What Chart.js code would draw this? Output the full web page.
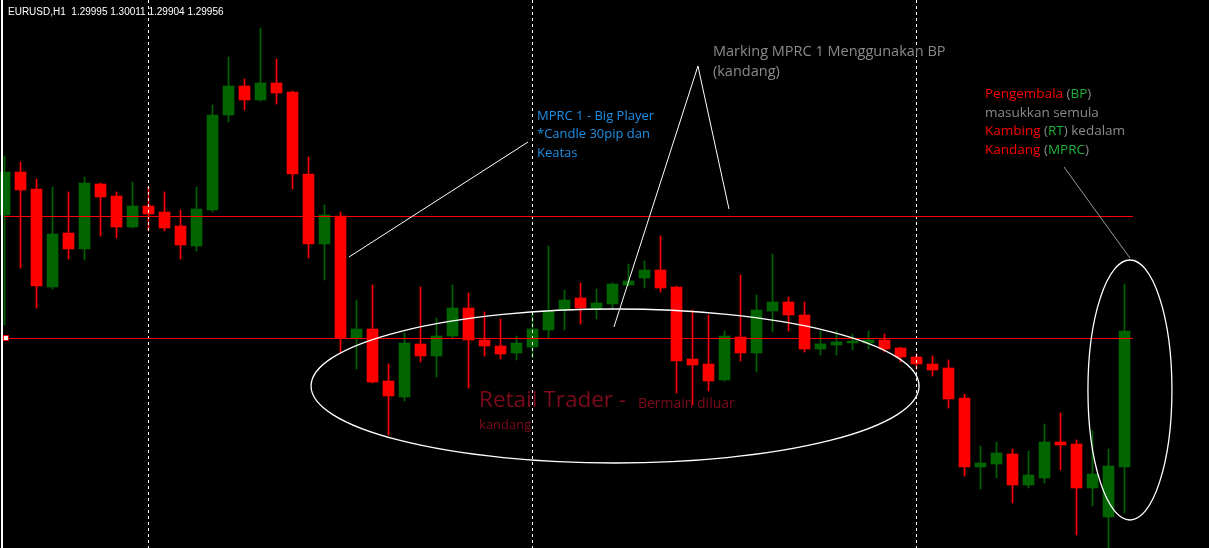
<!DOCTYPE html>
<html>
<head>
<meta charset="utf-8">
<script src="https://cdn.jsdelivr.net/npm/chart.js@4.4.0/dist/chart.umd.min.js"></script>
<style>
  html, body { margin: 0; padding: 0; background: #000; }
  #wrap { width: 1209px; height: 548px; position: relative; }
</style>
</head>
<body>
<div id="wrap"><canvas id="candleChart"></canvas></div>
<script>
// EURUSD H1 - one entry per bar
const opens = [1.30170,1.30256,1.30222,1.30026,1.30134,1.30102,1.30232,1.30208,1.30146,1.30188,
  1.30176,1.30148,1.30108,1.30180,1.30370,1.30428,1.30400,1.30434,1.30416,1.30252,
  1.30112,1.30168,1.29924,1.29942,1.29838,1.29806,1.29912,1.29888,1.29928,1.29984,
  1.29920,1.29908,1.29894,1.29906,1.29940,1.29980,1.30004,1.29982,1.29992,1.30030,
  1.30044,1.30060,1.30026,1.29882,1.29872,1.29840,1.29926,1.29894,1.29978,1.29996,
  1.29970,1.29902,1.29910,1.29914,1.29914,1.29920,1.29904,1.29886,1.29872,1.29864,
  1.29804,1.29666,1.29672,1.29692,1.29630,1.29644,1.29716,1.29712,1.29624,1.29566,
  1.29666];
const highs = [1.30288,1.30276,1.30242,1.30226,1.30216,1.30246,1.30234,1.30216,1.30236,1.30226,
  1.30216,1.30180,1.30226,1.30390,1.30486,1.30442,1.30544,1.30482,1.30418,1.30286,
  1.30190,1.30176,1.30000,1.30030,1.29872,1.29934,1.30026,1.29964,1.30030,1.30014,
  1.29976,1.29962,1.29928,1.29976,1.30108,1.30020,1.30034,1.30022,1.30034,1.30072,
  1.30078,1.30128,1.30028,1.29980,1.29970,1.29938,1.30050,1.30010,1.30092,1.30006,
  1.29996,1.29938,1.29938,1.29932,1.29938,1.29932,1.29906,1.29892,1.29888,1.29880,
  1.29812,1.29708,1.29716,1.29702,1.29698,1.29752,1.29774,1.29720,1.29738,1.29702,
  1.30032];
const lows = [1.29950,1.30064,1.29984,1.30022,1.30082,1.30080,1.30128,1.30124,1.30144,1.30140,
  1.30138,1.30082,1.30098,1.30176,1.30356,1.30380,1.30398,1.30392,1.30222,1.30084,
  1.30040,1.29894,1.29862,1.29834,1.29730,1.29798,1.29876,1.29846,1.29924,1.29824,
  1.29888,1.29882,1.29880,1.29884,1.29924,1.29940,1.29952,1.29962,1.29984,1.30028,
  1.30024,1.30016,1.29814,1.29790,1.29818,1.29838,1.29878,1.29856,1.29936,1.29938,
  1.29896,1.29890,1.29890,1.29900,1.29902,1.29896,1.29876,1.29862,1.29848,1.29784,
  1.29648,1.29622,1.29644,1.29594,1.29624,1.29634,1.29660,1.29530,1.29588,1.29496,
  1.29574];
const closes = [1.30256,1.30220,1.30028,1.30132,1.30102,1.30234,1.30206,1.30146,1.30188,1.30172,
  1.30144,1.30110,1.30182,1.30370,1.30428,1.30400,1.30434,1.30414,1.30252,1.30112,
  1.30170,1.29924,1.29942,1.29836,1.29808,1.29914,1.29888,1.29928,1.29984,1.29920,
  1.29908,1.29892,1.29914,1.29942,1.29978,1.30000,1.29984,1.29994,1.30032,1.30038,
  1.30060,1.30024,1.29878,1.29870,1.29838,1.29928,1.29894,1.29980,1.29996,1.29970,
  1.29902,1.29912,1.29916,1.29918,1.29920,1.29902,1.29886,1.29872,1.29860,1.29802,
  1.29666,1.29674,1.29694,1.29630,1.29650,1.29716,1.29710,1.29624,1.29652,1.29668,
  1.29938];

const headerText = 'EURUSD,H1  1.29995 1.30011 1.29904 1.29956';
const daySeparators = [9, 33, 57];          // bar index of each new day
const levels = [1.30168, 1.29924];          // MPRC lines
const levelSpan = [-0.03, 70.53];
const lineNotes = [
  [[21.53, 1.30086], [32.72, 1.30316]],
  [[38.09, 1.29946], [43.34, 1.30468], [45.28, 1.30182]]
];
const pointerLine = [[66.22, 1.30266], [70.34, 1.30084]];
// ellipses: centre x, centre price, half width (bars), half height (price)
const ellipses = [[38.16, 1.29828, 19, 0.00154], [70.34, 1.29820, 2.625, 0.0026]];

const GREEN = '#006400';
const RED = '#ff0000';

const idx = opens.map((_, i) => i);
const candleColors = idx.map(i => closes[i] >= opens[i] ? GREEN : RED);

// text notes: [x, price, runs of [text, colour]]
const FONT = '"Open Sans", sans-serif';
const notes = [
  {x: 33.28, y: 1.30368, size: 13, runs: [['MPRC 1 - Big Player', '#1e90e6']]},
  {x: 33.28, y: 1.30331, size: 13, runs: [['*Candle 30pip dan', '#1e90e6']]},
  {x: 33.28, y: 1.30294, size: 13, runs: [['Keatas', '#1e90e6']]},
  {x: 44.28, y: 1.30496, size: 14.5, runs: [['Marking MPRC 1 Menggunakan BP', '#8a8a8a']]},
  {x: 44.28, y: 1.30456, size: 14.5, runs: [['(kandang)', '#8a8a8a']]},
  {x: 29.66, y: 1.29798, size: 22.5, runs: [['Retail Trader - ', '#7d0a1c']], tail: ['Bermain diluar', '#7d0a1c', 14]},
  {x: 29.66, y: 1.29750, size: 13, runs: [['kandang', '#7d0a1c']]},
  {x: 61.28, y: 1.30412, size: 13.5, runs: [['Pengembala ', RED], ['(', '#8a8a8a'], ['BP', '#1fae3a'], [')', '#8a8a8a']]},
  {x: 61.28, y: 1.30374, size: 13.5, runs: [['masukkan semula', '#8a8a8a']]},
  {x: 61.28, y: 1.30338, size: 13.5, runs: [['Kambing ', RED], ['(', '#8a8a8a'], ['RT', '#1fae3a'], [') kedalam', '#8a8a8a']]},
  {x: 61.28, y: 1.30300, size: 13.5, runs: [['Kandang ', RED], ['(', '#8a8a8a'], ['MPRC', '#1fae3a'], [')', '#8a8a8a']]}
];

const overlayPlugin = {
  id: 'overlay',
  afterDatasetsDraw(chart) {
    const ctx = chart.ctx;
    const xs = chart.scales.x, ys = chart.scales.y;
    const area = chart.chartArea;
    const px = v => xs.getPixelForValue(v);
    const py = v => ys.getPixelForValue(v);
    ctx.save();

    // left border
    ctx.fillStyle = '#fff';
    ctx.fillRect(area.left + 1, area.top, 2, area.bottom - area.top);

    // day separators
    ctx.strokeStyle = '#fff';
    ctx.lineWidth = 1;
    ctx.setLineDash([3, 3]);
    daySeparators.forEach(d => {
      const x = Math.round(px(d)) - 0.5;
      ctx.beginPath();
      ctx.moveTo(x, area.top);
      ctx.lineTo(x, area.bottom);
      ctx.stroke();
    });
    ctx.setLineDash([]);

    // levels
    ctx.strokeStyle = RED;
    levels.forEach(l => {
      const y = Math.round(py(l)) + 0.5;
      ctx.beginPath();
      ctx.moveTo(px(levelSpan[0]), y);
      ctx.lineTo(px(levelSpan[1]), y);
      ctx.stroke();
    });
    // small marker on the lower level
    const my = Math.round(py(levels[1]));
    ctx.fillStyle = RED;
    ctx.fillRect(px(0.09) - 3, my - 3, 6, 6);
    ctx.fillStyle = '#fff';
    ctx.fillRect(px(0.09) - 2, my - 2, 4, 4);

    // white notes lines
    ctx.strokeStyle = '#fff';
    ctx.lineWidth = 1;
    lineNotes.forEach(pts => {
      ctx.beginPath();
      pts.forEach((p, i) => i ? ctx.lineTo(px(p[0]), py(p[1])) : ctx.moveTo(px(p[0]), py(p[1])));
      ctx.stroke();
    });
    ctx.strokeStyle = '#9a9a9a';
    ctx.beginPath();
    ctx.moveTo(px(pointerLine[0][0]), py(pointerLine[0][1]));
    ctx.lineTo(px(pointerLine[1][0]), py(pointerLine[1][1]));
    ctx.stroke();

    // ellipses
    ctx.strokeStyle = '#fff';
    ctx.lineWidth = 1.3;
    ellipses.forEach(e => {
      const cx = px(e[0]), cy = py(e[1]);
      const rx = px(e[0] + e[2]) - cx;
      const ry = py(e[1] - e[3]) - cy;
      ctx.beginPath();
      ctx.ellipse(cx, cy, rx, ry, 0, 0, Math.PI * 2);
      ctx.stroke();
    });

    // texts
    ctx.textBaseline = 'middle';
    notes.forEach(n => {
      let x = px(n.x);
      const y = py(n.y);
      ctx.font = n.size + 'px ' + FONT;
      n.runs.forEach(r => {
        ctx.fillStyle = r[1];
        ctx.fillText(r[0], x, y);
        x += ctx.measureText(r[0]).width;
      });
      if (n.tail) {
        ctx.font = n.tail[2] + 'px ' + FONT;
        ctx.fillStyle = n.tail[1];
        ctx.fillText(n.tail[0], x + 6, y + 3);
      }
    });

    ctx.font = '10px "Liberation Sans", sans-serif';
    ctx.fillStyle = '#fff';
    ctx.fillText(headerText, area.left + 8, area.top + 12);
    ctx.restore();
  }
};

new Chart(document.getElementById('candleChart'), {
  type: 'bar',
  data: {
    datasets: [
      {
        label: 'body',
        data: idx.map(i => ({x: i, y: [opens[i], closes[i]]})),
        backgroundColor: candleColors,
        barThickness: 11,
        grouped: false,
        order: 1
      },
      {
        label: 'wick',
        data: idx.map(i => ({x: i, y: [lows[i], highs[i]]})),
        backgroundColor: candleColors,
        barThickness: 1,
        grouped: false,
        order: 2
      }
    ]
  },
  options: {
    responsive: true,
    maintainAspectRatio: false,
    animation: false,
    layout: { padding: 0 },
    scales: {
      x: { type: 'linear', display: false, offset: false, min: -0.28125, max: 75.28125 },
      y: { display: false, min: 1.29504, max: 1.30600 }
    },
    plugins: { legend: { display: false }, tooltip: { enabled: false } }
  },
  plugins: [overlayPlugin]
});
</script>
</body>
</html>
